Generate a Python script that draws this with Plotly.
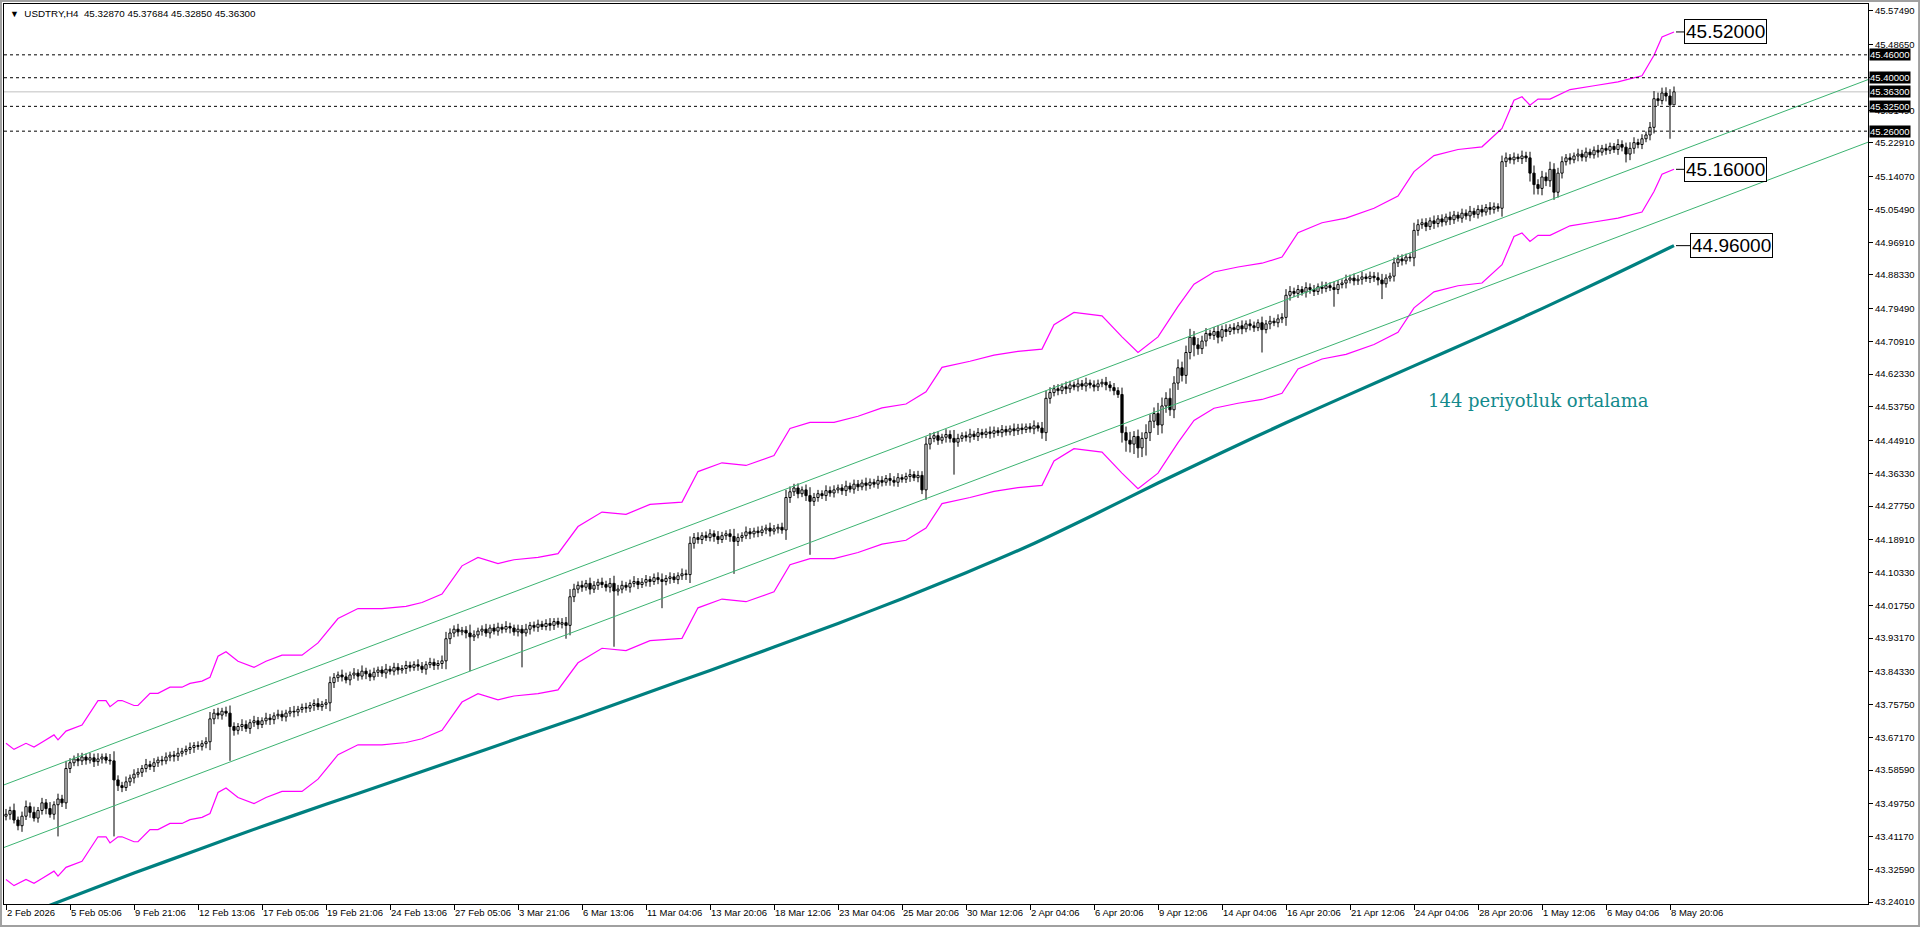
import plotly.graph_objects as go

# ---------------- data ----------------
title_symbol = "USDTRY,H4"
title_ohlc = ["45.32870", "45.37684", "45.32850", "45.36300"]

first_open = 43.465
close = [
    43.470, 43.480, 43.455, 43.440, 43.465, 43.490, 43.475, 43.460, 43.480, 43.500, 43.485, 43.470, 43.495, 43.510, 43.500,
    43.590, 43.605, 43.615, 43.610, 43.620, 43.612, 43.618, 43.608, 43.615, 43.620, 43.612, 43.610,
    43.560,
    43.545, 43.540, 43.555, 43.565, 43.575, 43.580, 43.590, 43.600, 43.595, 43.605, 43.612, 43.610, 43.620, 43.625, 43.622, 43.630, 43.635, 43.640, 43.645, 43.650, 43.648, 43.655, 43.660,
    43.720, 43.735, 43.730, 43.740, 43.735,
    43.700,
    43.690, 43.700, 43.705, 43.695, 43.710, 43.715, 43.705, 43.715, 43.722, 43.718, 43.728, 43.732, 43.725, 43.735, 43.740, 43.738, 43.745, 43.750, 43.748, 43.755, 43.760, 43.752, 43.758, 43.762,
    43.815, 43.828, 43.835, 43.830, 43.822, 43.835, 43.840, 43.832, 43.845, 43.838, 43.830, 43.842, 43.848, 43.840, 43.850, 43.845, 43.855, 43.848, 43.852, 43.860, 43.855, 43.862, 43.858, 43.850, 43.862, 43.868, 43.860, 43.865, 43.872,
    43.930, 43.945, 43.955, 43.948, 43.952, 43.945, 43.935, 43.940, 43.950, 43.955, 43.945, 43.958, 43.950, 43.960, 43.955, 43.962, 43.958, 43.948, 43.955, 43.945, 43.955, 43.965, 43.960, 43.968, 43.962, 43.970, 43.965, 43.975, 43.968, 43.972, 43.965,
    44.040, 44.060, 44.070, 44.065, 44.075, 44.060, 44.070, 44.078, 44.072, 44.065, 44.075, 44.055, 44.060, 44.070, 44.065, 44.075, 44.080, 44.072, 44.078, 44.085, 44.080, 44.090, 44.085, 44.080, 44.088, 44.092, 44.085, 44.095, 44.100, 44.098,
    44.180, 44.195, 44.190, 44.200, 44.195, 44.205, 44.198, 44.190, 44.200, 44.205, 44.198, 44.185, 44.195, 44.200, 44.210, 44.205, 44.212, 44.208, 44.215, 44.220, 44.212, 44.218, 44.222, 44.215,
    44.300, 44.315, 44.325, 44.310, 44.320, 44.305, 44.290, 44.300, 44.310, 44.305, 44.318, 44.312, 44.320, 44.325, 44.318, 44.330, 44.322, 44.335, 44.328, 44.338, 44.332, 44.340, 44.335, 44.345, 44.340, 44.350, 44.345, 44.340, 44.352, 44.348, 44.355, 44.360, 44.352, 44.358, 44.320,
    44.440, 44.455, 44.462, 44.450, 44.458, 44.465, 44.455, 44.445, 44.455, 44.462, 44.458, 44.466, 44.460, 44.470, 44.465, 44.472, 44.468, 44.475, 44.470, 44.478, 44.472, 44.480, 44.475, 44.482, 44.478, 44.485, 44.480, 44.488, 44.482, 44.470,
    44.560, 44.575, 44.585, 44.580, 44.590, 44.585, 44.595, 44.590, 44.598, 44.592, 44.600, 44.595, 44.590, 44.598, 44.602, 44.595, 44.588, 44.580, 44.570,
    44.470, 44.450, 44.440, 44.460, 44.430, 44.455, 44.470, 44.500, 44.520, 44.490, 44.540, 44.560, 44.530, 44.600, 44.640, 44.620, 44.680,
    44.720, 44.700, 44.690, 44.710, 44.730, 44.725, 44.735, 44.720, 44.740, 44.735, 44.745, 44.740, 44.750, 44.742, 44.755, 44.750, 44.745, 44.758, 44.740, 44.755, 44.762, 44.758, 44.768, 44.772,
    44.830, 44.840, 44.835, 44.845, 44.838, 44.850, 44.845, 44.840, 44.852, 44.848, 44.855, 44.850, 44.845, 44.858, 44.862, 44.870, 44.875, 44.868, 44.872, 44.878, 44.874, 44.880, 44.876, 44.870, 44.860, 44.875, 44.880,
    44.915, 44.925, 44.920, 44.930, 44.928,
    45.000, 45.015, 45.020, 45.010, 45.025, 45.018, 45.030, 45.022, 45.035, 45.028, 45.040, 45.032, 45.045, 45.038, 45.050, 45.042, 45.055, 45.048, 45.060, 45.055, 45.062, 45.058,
    45.180, 45.190, 45.185, 45.192, 45.188, 45.195, 45.190,
    45.150, 45.120, 45.110, 45.140, 45.130, 45.160, 45.100, 45.150,
    45.180, 45.190, 45.185, 45.195, 45.200, 45.192, 45.205, 45.198, 45.210, 45.205, 45.215, 45.210, 45.220, 45.212, 45.225, 45.218, 45.200, 45.215, 45.230, 45.225, 45.240, 45.250,
    45.270, 45.345, 45.340, 45.360, 45.352, 45.329, 45.363,
]

# upper / lower shadows in units of 0.001
wick_up = [
    14, 10, 18, 9, 12, 16, 11, 15, 9, 13, 10, 17, 9, 14, 11, 20, 12, 9, 15, 11,
    9, 13, 11, 15, 9, 10, 16, 25, 12, 10, 14, 9, 13, 11, 9, 15, 10, 12, 9, 11,
    12, 9, 11, 14, 9, 10, 13, 9, 11, 9, 12, 18, 11, 14, 9, 12, 20, 11, 9, 14,
    11, 9, 13, 10, 9, 14, 11, 9, 12, 10, 9, 11, 14, 9, 10, 12, 9, 11, 14, 9,
    10, 16, 12, 9, 14, 11, 9, 13, 10, 15, 9, 11, 12, 9, 10, 14, 9, 12, 11, 9,
    12, 10, 9, 14, 11, 9, 12, 10, 9, 14, 18, 12, 10, 14, 9, 11, 22, 12, 9, 10,
    14, 9, 11, 12, 9, 14, 10, 9, 12, 11, 14, 9, 10, 12, 9, 11, 14, 9, 10, 12,
    15, 20, 14, 10, 12, 9, 15, 11, 9, 12, 10, 14, 20, 11, 12, 9, 10, 14, 9, 11,
    12, 9, 11, 14, 16, 9, 12, 10, 9, 14, 11, 18, 12, 14, 9, 11, 12, 9, 14, 10,
    9, 12, 20, 11, 9, 14, 10, 9, 12, 11, 9, 14, 10, 9, 12, 20, 14, 11, 12, 9,
    14, 22, 12, 10, 9, 14, 11, 12, 9, 10, 14, 9, 12, 11, 9, 14, 10, 9, 12, 11,
    9, 14, 11, 12, 9, 10, 14, 9, 12, 11, 20, 14, 10, 12, 9, 14, 11, 22, 12, 9,
    11, 14, 9, 12, 10, 9, 14, 11, 9, 12, 10, 9, 14, 11, 12, 9, 10, 14, 9, 16,
    20, 14, 10, 12, 9, 14, 11, 9, 12, 10, 14, 9, 12, 11, 9, 14, 10, 12, 9, 18,
    16, 22, 14, 18, 16, 22, 18, 16, 28, 22, 16, 26, 18, 22, 16, 18, 22, 16, 18, 14,
    14, 10, 12, 16, 11, 14, 9, 12, 10, 14, 9, 12, 11, 9, 16, 10, 14, 9, 12, 11,
    16, 14, 10, 12, 9, 14, 11, 12, 9, 14, 10, 9, 16, 12, 10, 14, 9, 12, 11, 14,
    9, 12, 11, 14, 16, 10, 9, 14, 11, 12, 9, 10, 20, 14, 11, 12, 9, 14, 10, 12,
    9, 14, 11, 9, 12, 10, 14, 9, 11, 12, 9, 14, 11, 9, 16, 14, 10, 12, 9, 14,
    11, 16, 20, 14, 16, 12, 20, 16, 14, 14, 10, 12, 9, 14, 11, 12, 9, 10, 14, 9,
    12, 10, 9, 14, 11, 12, 16, 14, 10, 12, 9, 14, 20, 16, 14, 15, 18, 14,
]
wick_dn = [
    11, 14, 9, 12, 16, 10, 14, 9, 12, 11, 15, 9, 14, 83, 11, 16, 12, 9, 14, 11,
    12, 9, 14, 11, 12, 9, 10, 148, 14, 12, 9, 11, 14, 9, 12, 10, 9, 14, 11, 12,
    9, 11, 14, 12, 9, 10, 12, 14, 9, 11, 12, 22, 14, 11, 12, 9, 90, 14, 11, 12,
    9, 14, 11, 12, 9, 10, 14, 12, 9, 11, 12, 9, 14, 11, 9, 12, 10, 14, 9, 11,
    12, 22, 14, 11, 12, 9, 14, 10, 12, 9, 14, 11, 9, 12, 10, 14, 9, 11, 12, 9,
    14, 11, 9, 12, 10, 14, 9, 12, 11, 14, 22, 14, 11, 12, 9, 14, 90, 11, 9, 12,
    10, 14, 9, 12, 11, 9, 14, 10, 12, 90, 9, 14, 11, 12, 9, 10, 14, 12, 9, 11,
    35, 26, 14, 11, 12, 9, 14, 10, 12, 9, 11, 14, 146, 12, 11, 9, 14, 10, 12, 9,
    11, 14, 9, 12, 70, 10, 14, 9, 12, 11, 14, 22, 14, 11, 12, 9, 10, 14, 12, 9,
    11, 14, 85, 12, 11, 9, 14, 10, 12, 9, 11, 14, 9, 12, 10, 26, 14, 11, 12, 9,
    14, 140, 12, 11, 9, 14, 10, 12, 9, 11, 14, 9, 12, 11, 9, 14, 10, 9, 12, 11,
    9, 14, 11, 12, 9, 10, 14, 9, 12, 11, 26, 14, 10, 12, 9, 14, 11, 85, 12, 9,
    11, 14, 9, 12, 10, 9, 14, 11, 9, 12, 10, 9, 14, 11, 12, 9, 10, 14, 9, 16,
    22, 14, 10, 12, 9, 14, 11, 9, 12, 10, 14, 9, 12, 11, 9, 14, 10, 12, 9, 26,
    30, 22, 26, 26, 24, 45, 22, 18, 26, 22, 18, 16, 22, 18, 16, 22, 18, 30, 16, 14,
    14, 10, 12, 16, 11, 14, 9, 12, 10, 14, 9, 12, 11, 9, 60, 10, 14, 9, 12, 11,
    22, 14, 10, 12, 9, 14, 11, 12, 9, 14, 10, 9, 45, 12, 10, 14, 9, 12, 11, 14,
    9, 12, 11, 14, 40, 10, 9, 14, 11, 12, 9, 10, 22, 14, 11, 12, 9, 14, 10, 12,
    9, 14, 11, 9, 12, 10, 14, 9, 11, 12, 9, 14, 11, 9, 22, 14, 10, 12, 9, 14,
    11, 22, 26, 16, 18, 14, 16, 20, 14, 14, 10, 12, 9, 14, 11, 12, 9, 10, 14, 9,
    12, 10, 9, 14, 11, 22, 16, 14, 10, 12, 9, 14, 16, 14, 10, 14, 89, 0,
]

# envelope bands (magenta), bar index -> price
band_bars = [0, 2, 5, 7, 9, 12, 13, 15, 19, 21, 23, 25, 26, 28, 29, 32, 33, 36, 38, 41, 44, 46, 49, 51, 53, 55, 58,
             62, 65, 69, 74, 78, 83, 88, 94, 100, 104, 109, 114, 118, 123, 127, 133, 138, 143, 149, 155, 161, 169,
             173, 179, 185, 192, 196, 201, 207, 213, 219, 225, 230, 234, 241, 247, 253, 259, 262, 267, 274, 279,
             283, 288, 293, 297, 302, 308, 314, 319, 323, 329, 335, 342, 348, 352, 357, 363, 369, 374, 377, 379,
             381, 383, 386, 391, 397, 403, 409, 412, 414, 417]
band_upper = [43.656, 43.640, 43.656, 43.646, 43.659, 43.678, 43.665, 43.688, 43.704, 43.736, 43.768, 43.768, 43.752,
              43.768, 43.768, 43.755, 43.755, 43.787, 43.787, 43.803, 43.803, 43.813, 43.819, 43.829, 43.884, 43.896,
              43.871, 43.855, 43.871, 43.887, 43.887, 43.919, 43.983, 44.009, 44.009, 44.015, 44.025, 44.047, 44.121,
              44.143, 44.127, 44.137, 44.143, 44.153, 44.224, 44.262, 44.256, 44.282, 44.288, 44.368, 44.391, 44.384,
              44.410, 44.481, 44.497, 44.497, 44.513, 44.535, 44.545, 44.577, 44.641, 44.657, 44.673, 44.683, 44.689,
              44.753, 44.785, 44.776, 44.721, 44.680, 44.721, 44.801, 44.859, 44.891, 44.904, 44.914, 44.930, 44.994,
              45.020, 45.032, 45.058, 45.090, 45.154, 45.196, 45.212, 45.219, 45.267, 45.341, 45.350, 45.328, 45.344,
              45.344, 45.369, 45.379, 45.389, 45.405, 45.459, 45.507, 45.520]
band_lower = [43.299, 43.283, 43.299, 43.289, 43.302, 43.321, 43.308, 43.331, 43.347, 43.379, 43.411, 43.411, 43.395,
              43.411, 43.411, 43.398, 43.398, 43.430, 43.430, 43.446, 43.446, 43.456, 43.462, 43.472, 43.527, 43.539,
              43.514, 43.498, 43.514, 43.530, 43.530, 43.562, 43.626, 43.652, 43.652, 43.658, 43.668, 43.690, 43.764,
              43.786, 43.770, 43.780, 43.786, 43.796, 43.867, 43.905, 43.899, 43.925, 43.931, 44.011, 44.034, 44.027,
              44.053, 44.124, 44.140, 44.140, 44.156, 44.178, 44.188, 44.220, 44.284, 44.300, 44.316, 44.326, 44.332,
              44.396, 44.428, 44.419, 44.364, 44.323, 44.364, 44.444, 44.502, 44.534, 44.547, 44.557, 44.573, 44.637,
              44.663, 44.675, 44.701, 44.733, 44.797, 44.839, 44.855, 44.862, 44.910, 44.984, 44.993, 44.971, 44.987,
              44.987, 45.012, 45.022, 45.032, 45.048, 45.102, 45.147, 45.160]

# 144-period moving average (teal)
ma_bars = [0, 16, 32, 48, 64, 80, 96, 112, 128, 144, 160, 176, 192, 208, 224, 240, 256, 272, 288, 304, 320, 336,
           352, 368, 384, 400, 416, 417]
ma_values = [43.187, 43.252, 43.316, 43.377, 43.438, 43.496, 43.553, 43.611, 43.669, 43.727, 43.787, 43.847, 43.908,
             43.970, 44.035, 44.103, 44.175, 44.255, 44.338, 44.418, 44.496, 44.571, 44.645, 44.719, 44.795, 44.874,
             44.955, 44.960]

# channel trend lines (green), end points
channel_bars = [-0.5, 465.5]
channel_upper = [43.547, 45.395]
channel_lower = [43.383, 45.231]

# horizontal levels
dashed_levels = [45.46, 45.40, 45.325, 45.26]
bid_level = 45.363
axis_boxes = [45.46, 45.40, 45.363, 45.325, 45.26]
big_labels = [45.52, 45.16, 44.96]
ma_note = "144 periyotluk ortalama"

# axes
price_ticks = [45.57490, 45.48650, 45.40070, 45.31490, 45.22910, 45.14070, 45.05490, 44.96910, 44.88330, 44.79490,
               44.70910, 44.62330, 44.53750, 44.44910, 44.36330, 44.27750, 44.18910, 44.10330, 44.01750, 43.93170,
               43.84330, 43.75750, 43.67170, 43.58590, 43.49750, 43.41170, 43.32590, 43.24010]
hidden_price_ticks = [45.40070]
date_tick_bars = [0, 16, 32, 48, 64, 80, 96, 112, 128, 144, 160, 176, 192, 208, 224, 240, 256, 272, 288, 304, 320,
                  336, 352, 368, 384, 400, 416]
date_tick_labels = ["2 Feb 2026", "5 Feb 05:06", "9 Feb 21:06", "12 Feb 13:06", "17 Feb 05:06", "19 Feb 21:06",
                    "24 Feb 13:06", "27 Feb 05:06", "3 Mar 21:06", "6 Mar 13:06", "11 Mar 04:06", "13 Mar 20:06",
                    "18 Mar 12:06", "23 Mar 04:06", "25 Mar 20:06", "30 Mar 12:06", "2 Apr 04:06", "6 Apr 20:06",
                    "9 Apr 12:06", "14 Apr 04:06", "16 Apr 20:06", "21 Apr 12:06", "24 Apr 04:06", "28 Apr 20:06",
                    "1 May 12:06", "6 May 04:06", "8 May 20:06"]

# ---------------- build OHLC ----------------
n = len(close)
bars = list(range(n))
opens = [first_open] + close[:-1]
highs = [max(o, c) + u / 1000 for o, c, u in zip(opens, close, wick_up)]
lows = [min(o, c) - d / 1000 for o, c, d in zip(opens, close, wick_dn)]
body_top = [max(o, c) for o, c in zip(opens, close)]
body_bot = [min(o, c) for o, c in zip(opens, close)]
body_h = [max(t - b, 0.0006) for t, b in zip(body_top, body_bot)]
body_fill = ["white" if c >= o else "black" for o, c in zip(opens, close)]

wick_x, wick_y = [], []
for i in bars:
    wick_x += [i, i, None, i, i, None]
    wick_y += [highs[i], body_top[i], None, body_bot[i], lows[i], None]

FONT = "Liberation Sans, Arial, sans-serif"
TEAL = "#008080"

fig = go.Figure()

fig.add_trace(go.Bar(x=bars, y=body_h, base=body_bot, width=0.55,
                     marker=dict(color=body_fill, line=dict(color="black", width=1)),
                     hoverinfo="skip"))
fig.add_trace(go.Scatter(x=wick_x, y=wick_y, mode="lines", line=dict(color="black", width=1),
                         hoverinfo="skip", connectgaps=False))
fig.add_trace(go.Scatter(x=ma_bars, y=ma_values, mode="lines", line_shape="spline",
                         line=dict(color=TEAL, width=3.2, smoothing=0.6), hoverinfo="skip"))
fig.add_trace(go.Scatter(x=band_bars, y=band_upper, mode="lines",
                         line=dict(color="#ff00ff", width=1.2), hoverinfo="skip"))
fig.add_trace(go.Scatter(x=band_bars, y=band_lower, mode="lines",
                         line=dict(color="#ff00ff", width=1.2), hoverinfo="skip"))
fig.add_trace(go.Scatter(x=channel_bars, y=channel_upper, mode="lines",
                         line=dict(color="#3cb371", width=1), hoverinfo="skip"))
fig.add_trace(go.Scatter(x=channel_bars, y=channel_lower, mode="lines",
                         line=dict(color="#3cb371", width=1), hoverinfo="skip"))

shapes = []
for lv in dashed_levels:
    shapes.append(dict(type="line", xref="paper", x0=0, x1=1, yref="y", y0=lv, y1=lv,
                       line=dict(color="black", width=1, dash="3px,3px"), layer="above"))
shapes.append(dict(type="line", xref="paper", x0=0, x1=1, yref="y", y0=bid_level, y1=bid_level,
                   line=dict(color="#c0c0c0", width=1), layer="below"))
# leader ticks to the big labels
shapes.append(dict(type="line", x0=417.5, x1=419.5, y0=big_labels[0], y1=big_labels[0], line=dict(color="black", width=1)))
shapes.append(dict(type="line", x0=417.5, x1=419.5, y0=big_labels[1], y1=big_labels[1], line=dict(color="black", width=1)))
shapes.append(dict(type="line", x0=417.5, x1=421, y0=big_labels[2], y1=big_labels[2], line=dict(color="black", width=1)))
# outer window frame
shapes.append(dict(type="rect", xref="paper", yref="paper", x0=-0.0016, x1=1.0274, y0=-0.0244, y1=1.0033,
                   line=dict(color="#a0a0a0", width=2), fillcolor="rgba(0,0,0,0)"))

annotations = []
for lv in axis_boxes:
    annotations.append(dict(xref="paper", x=1, xanchor="left", xshift=1, yref="y", y=lv, yanchor="middle",
                            text=f"{lv:.5f}", showarrow=False, bgcolor="black", borderpad=0,
                            font=dict(family=FONT, size=9.5, color="white")))
for lv, xb in zip(big_labels, [419.5, 419.5, 421]):
    annotations.append(dict(x=xb, xanchor="left", y=lv, yanchor="middle", text=f"{lv:.5f}", showarrow=False,
                            bgcolor="white", bordercolor="black", borderwidth=1, borderpad=1,
                            font=dict(family=FONT, size=19, color="black")))
annotations.append(dict(x=383, y=44.554, text=ma_note, showarrow=False, xanchor="center", yanchor="middle",
                        font=dict(family="DejaVu Serif, serif", size=18, color="#138a8c")))
annotations.append(dict(xref="paper", yref="paper", x=0, xshift=4, y=1, yshift=-2, xanchor="left", yanchor="top",
                        text="<span style='font-size:9px'>▼</span>  " + title_symbol + "  " + " ".join(title_ohlc),
                        showarrow=False, font=dict(family=FONT, size=9.8, color="black")))

tick_text = ["" if v in hidden_price_ticks else f"{v:.5f}" for v in price_ticks]

fig.update_layout(
    width=1920, height=927,
    margin=dict(l=4, r=52, t=4, b=23),
    paper_bgcolor="white", plot_bgcolor="white",
    showlegend=False,
    font=dict(family=FONT, size=9.5, color="black"),
    shapes=shapes, annotations=annotations,
    xaxis=dict(range=[-0.5, 465.5], tickmode="array", tickvals=date_tick_bars, ticktext=date_tick_labels,
               ticks="outside", ticklen=5, tickcolor="black", tickwidth=1, tickangle=0,
               ticklabelposition="outside right",
               showline=True, linecolor="black", linewidth=1, mirror=True,
               showgrid=False, zeroline=False,
               tickfont=dict(family=FONT, size=9.5, color="black")),
    yaxis=dict(range=[43.2349, 45.5932], side="right", tickmode="array", tickvals=price_ticks,
               ticktext=tick_text,
               ticks="outside", ticklen=4, tickcolor="black", tickwidth=1,
               showline=True, linecolor="black", linewidth=1, mirror=True,
               showgrid=False, zeroline=False,
               tickfont=dict(family=FONT, size=9.5, color="black")),
)

fig.write_html("out.html", config={"displayModeBar": False},
               post_script="document.body.style.margin='0';document.body.style.overflow='hidden';")
